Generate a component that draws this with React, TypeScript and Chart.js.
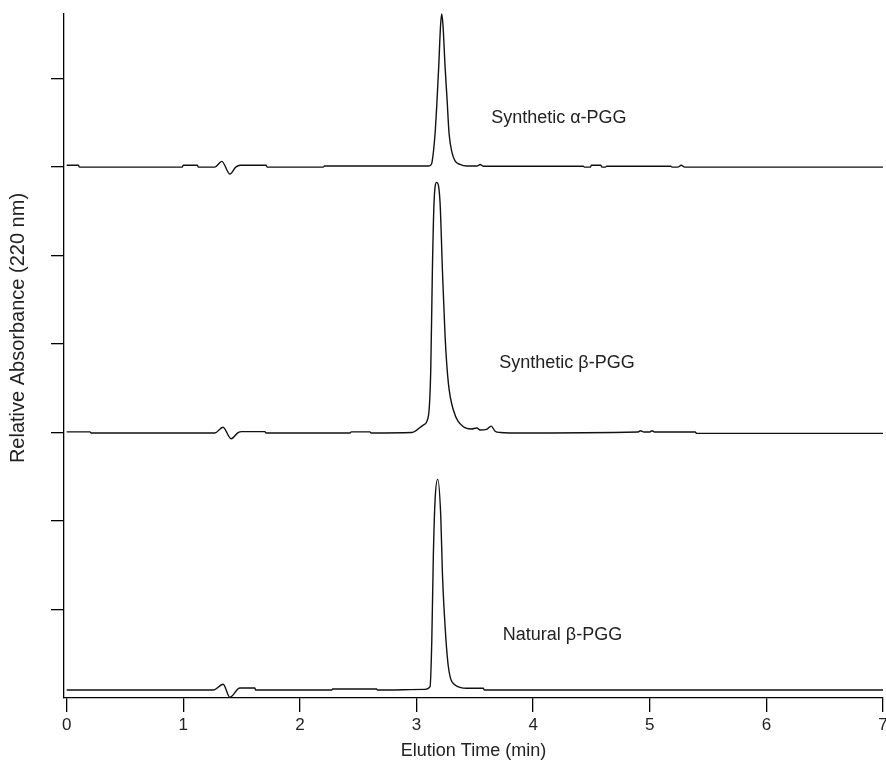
import React, { useEffect, useRef } from "react";
import { Chart, registerables } from "chart.js";

Chart.register(...registerables);

const FONT = '"Liberation Sans", Arial, Helvetica, sans-serif';

// Elution time (min) and relative absorbance for the three traces
const synthAlphaTime = [0, 0.10, 0.11, 0.99, 1.0, 1.12, 1.13, 1.27, 1.33, 1.40, 1.45, 1.49, 1.71, 1.72, 2.20, 2.21, 3.10, 3.12, 3.133, 3.159, 3.176, 3.19, 3.206, 3.216, 3.227, 3.245, 3.262, 3.279, 3.305, 3.33, 3.373, 3.43, 3.52, 3.545, 3.57, 4.43, 4.44, 4.49, 4.50, 4.58, 4.59, 4.62, 4.63, 5.18, 5.19, 5.24, 5.27, 5.30, 7.0];
const synthAlphaAbs = [6.02, 6.02, 6.0, 6.0, 6.02, 6.02, 6.0, 6.0, 6.065, 5.92, 6.0, 6.02, 6.02, 6.0, 6.0, 6.012, 6.012, 6.02, 6.056, 6.38, 6.76, 7.13, 7.6, 7.73, 7.6, 7.13, 6.76, 6.38, 6.16, 6.07, 6.03, 6.012, 6.012, 6.03, 6.01, 6.01, 6.0, 6.0, 6.02, 6.02, 6.0, 6.0, 6.01, 6.01, 6.0, 6.0, 6.02, 6.0, 6.0];

const synthBetaTime = [0, 0.20, 0.21, 1.27, 1.34, 1.41, 1.47, 1.50, 1.70, 1.71, 2.43, 2.44, 2.60, 2.61, 2.96, 3.058, 3.101, 3.122, 3.136, 3.150, 3.173, 3.202, 3.222, 3.245, 3.273, 3.316, 3.402, 3.47, 3.517, 3.545, 3.60, 3.64, 3.674, 3.72, 3.80, 4.90, 4.92, 4.95, 5.0, 5.02, 5.04, 5.39, 5.40, 7.0];
const synthBetaAbs = [3.008, 3.008, 2.995, 2.995, 3.06, 2.93, 3.0, 3.01, 3.01, 2.995, 2.995, 3.008, 3.008, 2.995, 3.0, 3.085, 3.18, 3.706, 4.836, 5.593, 5.827, 5.593, 4.836, 4.082, 3.559, 3.254, 3.066, 3.04, 3.051, 3.028, 3.035, 3.073, 3.015, 3.0, 2.995, 3.006, 3.02, 3.006, 3.006, 3.02, 3.006, 3.006, 2.991, 2.991];

const naturalBetaTime = [0, 1.256, 1.342, 1.399, 1.485, 1.614, 1.62, 2.273, 2.28, 2.658, 2.665, 3.073, 3.116, 3.131, 3.144, 3.159, 3.182, 3.208, 3.222, 3.245, 3.273, 3.33, 3.431, 3.573, 3.58, 7.0];
const naturalBetaAbs = [0.09, 0.09, 0.155, 0.008, 0.113, 0.113, 0.09, 0.09, 0.102, 0.102, 0.09, 0.098, 0.128, 0.655, 1.597, 2.237, 2.471, 2.049, 1.409, 0.805, 0.353, 0.147, 0.11, 0.11, 0.09, 0.09];

const xTicks = [0, 1, 2, 3, 4, 5, 6, 7];
const yTicks = [1, 2, 3, 4, 5, 6, 7];

const labelTexts = ["Synthetic \u03b1-PGG", "Synthetic \u03b2-PGG", "Natural \u03b2-PGG"];
const labelTimes = [3.64, 3.71, 3.74];
const labelLevels = [6.55, 3.785, 0.71];

const yTitleText = "Relative Absorbance (220 nm)";

const peakLabels = {
  id: "peakLabels",
  afterDatasetsDraw(chart: any) {
    const { ctx } = chart;
    const xs = chart.scales.x;
    const ys = chart.scales.y;
    ctx.save();
    ctx.font = `18px ${FONT}`;
    ctx.fillStyle = "#222";
    ctx.textAlign = "left";
    ctx.textBaseline = "middle";
    labelTexts.forEach((t, i) => {
      ctx.fillText(t, xs.getPixelForValue(labelTimes[i]), ys.getPixelForValue(labelLevels[i]));
    });
    ctx.restore();
  },
};

const yTitle = {
  id: "yTitle",
  afterDraw(chart: any) {
    const { ctx, chartArea } = chart;
    ctx.save();
    ctx.translate(18, (chartArea.top + chartArea.bottom) / 2 - 28);
    ctx.rotate(-Math.PI / 2);
    ctx.font = `20px ${FONT}`;
    ctx.fillStyle = "#222";
    ctx.textAlign = "center";
    ctx.textBaseline = "middle";
    ctx.fillText(yTitleText, 0, 0);
    ctx.restore();
  },
};

function toPoints(xs: number[], ys: number[]) {
  return xs.map((x, i) => ({ x, y: ys[i] }));
}

export default function App() {
  const ref = useRef<HTMLCanvasElement | null>(null);
  useEffect(() => {
    if (!ref.current) return;
    const line = (data: any[]) => ({
      data,
      borderColor: "#111",
      borderWidth: 1.4,
      pointRadius: 0,
      fill: false,
      cubicInterpolationMode: "monotone" as const,
      clip: 6,
    });
    const chart = new Chart(ref.current, {
      type: "line",
      data: {
        datasets: [
          line(toPoints(synthAlphaTime, synthAlphaAbs)),
          line(toPoints(synthBetaTime, synthBetaAbs)),
          line(toPoints(naturalBetaTime, naturalBetaAbs)),
        ],
      },
      options: {
        animation: false,
        responsive: false,
        devicePixelRatio: 1,
        layout: { padding: { top: 14, right: 3, left: 0, bottom: 0 } },
        plugins: { legend: { display: false }, tooltip: { enabled: false } },
        scales: {
          x: {
            type: "linear",
            min: -0.023,
            max: 7,
            afterBuildTicks: (s: any) => {
              s.ticks = xTicks.map((v) => ({ value: v }));
            },
            afterFit: (s: any) => {
              s.height = 64;
              s.paddingLeft = 0;
              s.paddingRight = 0;
            },
            grid: { display: true, drawOnChartArea: false, drawTicks: true, tickLength: 14, color: "#000", lineWidth: 1.3 },
            border: { display: true, color: "#000", width: 1.3 },
            ticks: { color: "#222", font: { family: FONT, size: 17 }, padding: 3, maxRotation: 0, autoSkip: false },
            title: { display: true, text: "Elution Time (min)", color: "#222", font: { family: FONT, size: 18 }, padding: { top: 0, bottom: 0 } },
          },
          y: {
            type: "linear",
            min: 0,
            max: 7.73,
            afterBuildTicks: (s: any) => {
              s.ticks = yTicks.map((v) => ({ value: v }));
            },
            afterFit: (s: any) => {
              s.width = 64;
              s.paddingTop = 0;
              s.paddingBottom = 0;
            },
            grid: { display: true, drawOnChartArea: false, drawTicks: true, tickLength: 13, color: "#000", lineWidth: 1.3 },
            border: { display: true, color: "#000", width: 1.3 },
            ticks: { callback: () => "", font: { family: FONT, size: 10 }, padding: 0 },
            title: { display: false },
          },
        },
      },
      plugins: [peakLabels, yTitle],
    });
    return () => chart.destroy();
  }, []);
  return (
    <div style={{ position: "fixed", left: 0, top: 0, width: 886, height: 762, background: "#fff" }}>
      <canvas ref={ref} width={886} height={762} style={{ width: 886, height: 762, display: "block" }} />
    </div>
  );
}
